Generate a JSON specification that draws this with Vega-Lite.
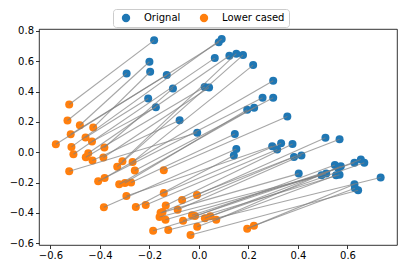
{
  "$schema": "https://vega.github.io/schema/vega-lite/v6.json",
  "width": 358,
  "height": 216,
  "autosize": {"type": "none"},
  "padding": {"left": 39, "top": 29, "right": 10, "bottom": 26},
  "background": "white",
  "config": {
    "font": "DejaVu Sans",
    "view": {"stroke": "black", "strokeWidth": 0.8},
    "axis": {"grid": false, "domain": false, "ticks": true, "tickColor": "black", "tickSize": 3.5, "tickWidth": 0.8, "labelFont": "DejaVu Sans", "labelFontSize": 10, "labelColor": "black", "labelPadding": 2, "title": null}
  },
  "data": {"values": [
    {"id":1,"kind":"Lower cased","x":-0.524,"y":0.315},{"id":1,"kind":"Orignal","x":-0.181,"y":0.738},
    {"id":2,"kind":"Lower cased","x":-0.531,"y":0.209},{"id":2,"kind":"Orignal","x":-0.292,"y":0.520},
    {"id":3,"kind":"Lower cased","x":-0.481,"y":0.178},{"id":3,"kind":"Orignal","x":-0.200,"y":0.597},
    {"id":4,"kind":"Lower cased","x":-0.427,"y":0.163},{"id":4,"kind":"Orignal","x":-0.197,"y":0.531},
    {"id":5,"kind":"Lower cased","x":-0.518,"y":0.119},{"id":5,"kind":"Orignal","x":-0.130,"y":0.509},
    {"id":6,"kind":"Lower cased","x":-0.458,"y":0.097},{"id":6,"kind":"Orignal","x":-0.205,"y":0.355},
    {"id":7,"kind":"Lower cased","x":-0.432,"y":0.070},{"id":7,"kind":"Orignal","x":-0.174,"y":0.297},
    {"id":8,"kind":"Lower cased","x":-0.578,"y":0.053},{"id":8,"kind":"Orignal","x":0.080,"y":0.725},
    {"id":9,"kind":"Lower cased","x":-0.515,"y":0.035},{"id":9,"kind":"Orignal","x":0.092,"y":0.747},
    {"id":10,"kind":"Lower cased","x":-0.382,"y":0.031},{"id":10,"kind":"Orignal","x":-0.105,"y":0.421},
    {"id":11,"kind":"Lower cased","x":-0.507,"y":-0.013},{"id":11,"kind":"Orignal","x":0.064,"y":0.621},
    {"id":12,"kind":"Lower cased","x":-0.447,"y":-0.007},{"id":12,"kind":"Orignal","x":0.123,"y":0.637},
    {"id":13,"kind":"Lower cased","x":-0.457,"y":-0.033},{"id":13,"kind":"Orignal","x":0.023,"y":0.430},
    {"id":14,"kind":"Lower cased","x":-0.430,"y":-0.055},{"id":14,"kind":"Orignal","x":-0.078,"y":0.211},
    {"id":15,"kind":"Lower cased","x":-0.386,"y":-0.035},{"id":15,"kind":"Orignal","x":0.041,"y":0.427},
    {"id":16,"kind":"Lower cased","x":-0.524,"y":-0.126},{"id":16,"kind":"Orignal","x":-0.007,"y":0.128},
    {"id":17,"kind":"Lower cased","x":-0.309,"y":-0.059},{"id":17,"kind":"Orignal","x":0.151,"y":0.650},
    {"id":18,"kind":"Lower cased","x":-0.330,"y":-0.095},{"id":18,"kind":"Orignal","x":0.178,"y":0.641},
    {"id":19,"kind":"Lower cased","x":-0.268,"y":-0.064},{"id":19,"kind":"Orignal","x":0.219,"y":0.575},
    {"id":20,"kind":"Lower cased","x":-0.381,"y":-0.170},{"id":20,"kind":"Orignal","x":0.300,"y":0.471},
    {"id":21,"kind":"Lower cased","x":-0.407,"y":-0.192},{"id":21,"kind":"Orignal","x":0.257,"y":0.359},
    {"id":22,"kind":"Lower cased","x":-0.259,"y":-0.121},{"id":22,"kind":"Orignal","x":0.300,"y":0.359},
    {"id":23,"kind":"Lower cased","x":-0.322,"y":-0.211},{"id":23,"kind":"Orignal","x":0.223,"y":0.293},
    {"id":24,"kind":"Lower cased","x":-0.299,"y":-0.203},{"id":24,"kind":"Orignal","x":0.195,"y":0.280},
    {"id":25,"kind":"Lower cased","x":-0.142,"y":-0.119},{"id":25,"kind":"Orignal","x":0.357,"y":0.236},
    {"id":26,"kind":"Lower cased","x":-0.274,"y":-0.200},{"id":26,"kind":"Orignal","x":0.145,"y":0.121},
    {"id":27,"kind":"Lower cased","x":-0.293,"y":-0.289},{"id":27,"kind":"Orignal","x":0.296,"y":0.040},
    {"id":28,"kind":"Lower cased","x":-0.384,"y":-0.363},{"id":28,"kind":"Orignal","x":0.151,"y":0.022},
    {"id":29,"kind":"Lower cased","x":-0.255,"y":-0.361},{"id":29,"kind":"Orignal","x":0.141,"y":-0.022},
    {"id":30,"kind":"Lower cased","x":-0.142,"y":-0.269},{"id":30,"kind":"Orignal","x":0.332,"y":0.059},
    {"id":31,"kind":"Lower cased","x":-0.008,"y":-0.282},{"id":31,"kind":"Orignal","x":0.511,"y":0.095},
    {"id":32,"kind":"Lower cased","x":-0.068,"y":-0.315},{"id":32,"kind":"Orignal","x":0.568,"y":0.086},
    {"id":33,"kind":"Lower cased","x":-0.215,"y":-0.348},{"id":33,"kind":"Orignal","x":0.316,"y":0.018},
    {"id":34,"kind":"Lower cased","x":-0.134,"y":-0.352},{"id":34,"kind":"Orignal","x":0.378,"y":0.055},
    {"id":35,"kind":"Lower cased","x":-0.086,"y":-0.379},{"id":35,"kind":"Orignal","x":0.414,"y":-0.022},
    {"id":36,"kind":"Lower cased","x":-0.147,"y":-0.394},{"id":36,"kind":"Orignal","x":0.384,"y":-0.031},
    {"id":37,"kind":"Lower cased","x":-0.155,"y":-0.400},{"id":37,"kind":"Orignal","x":0.403,"y":-0.141},
    {"id":38,"kind":"Lower cased","x":-0.159,"y":-0.427},{"id":38,"kind":"Orignal","x":0.495,"y":-0.152},
    {"id":39,"kind":"Lower cased","x":-0.135,"y":-0.445},{"id":39,"kind":"Orignal","x":0.514,"y":-0.141},
    {"id":40,"kind":"Lower cased","x":-0.064,"y":-0.452},{"id":40,"kind":"Orignal","x":0.549,"y":-0.084},
    {"id":41,"kind":"Lower cased","x":-0.016,"y":-0.421},{"id":41,"kind":"Orignal","x":0.628,"y":-0.070},
    {"id":42,"kind":"Lower cased","x":-0.028,"y":-0.416},{"id":42,"kind":"Orignal","x":0.562,"y":-0.104},
    {"id":43,"kind":"Lower cased","x":0.024,"y":-0.436},{"id":43,"kind":"Orignal","x":0.654,"y":-0.048},
    {"id":44,"kind":"Lower cased","x":0.046,"y":-0.423},{"id":44,"kind":"Orignal","x":0.668,"y":-0.070},
    {"id":45,"kind":"Lower cased","x":0.070,"y":-0.445},{"id":45,"kind":"Orignal","x":0.573,"y":-0.093},
    {"id":46,"kind":"Lower cased","x":-0.007,"y":-0.491},{"id":46,"kind":"Orignal","x":0.554,"y":-0.152},
    {"id":47,"kind":"Lower cased","x":-0.185,"y":-0.518},{"id":47,"kind":"Orignal","x":0.568,"y":-0.148},
    {"id":48,"kind":"Lower cased","x":-0.124,"y":-0.513},{"id":48,"kind":"Orignal","x":0.734,"y":-0.167},
    {"id":49,"kind":"Lower cased","x":-0.034,"y":-0.546},{"id":49,"kind":"Orignal","x":0.643,"y":-0.251},
    {"id":50,"kind":"Lower cased","x":0.195,"y":-0.504},{"id":50,"kind":"Orignal","x":0.628,"y":-0.211},
    {"id":51,"kind":"Lower cased","x":0.222,"y":-0.485},{"id":51,"kind":"Orignal","x":0.630,"y":-0.238}
  ]},
  "encoding": {
    "x": {"field": "x", "type": "quantitative", "scale": {"domain": [-0.646, 0.80], "nice": false, "zero": false}, "axis": {"values": [-0.6, -0.4, -0.2, 0.0, 0.2, 0.4, 0.6], "format": ".1f"}},
    "y": {"field": "y", "type": "quantitative", "scale": {"domain": [-0.612, 0.813], "nice": false, "zero": false}, "axis": {"values": [-0.6, -0.4, -0.2, 0.0, 0.2, 0.4, 0.6, 0.8], "format": ".1f"}}
  },
  "layer": [
    {
      "mark": {"type": "circle", "size": 64, "opacity": 1},
      "encoding": {
        "color": {"field": "kind", "type": "nominal", "scale": {"domain": ["Orignal", "Lower cased"], "range": ["#1f77b4", "#ff7f0e"]},
          "legend": {"title": null, "orient": "none", "legendX": 74, "legendY": -20, "direction": "horizontal", "columns": 2, "labelFont": "DejaVu Sans", "labelFontSize": 10, "labelColor": "black", "symbolSize": 70, "symbolType": "circle", "labelOffset": 13, "columnPadding": 14, "padding": 4, "symbolOffset": 4, "strokeColor": "#cccccc", "fillColor": "white", "cornerRadius": 3}
        }
      }
    },
    {
      "mark": {"type": "line", "color": "gray", "opacity": 0.7, "strokeWidth": 1.1},
      "encoding": {"detail": {"field": "id", "type": "nominal"}, "order": {"field": "x", "type": "quantitative"}}
    }
  ]
}
